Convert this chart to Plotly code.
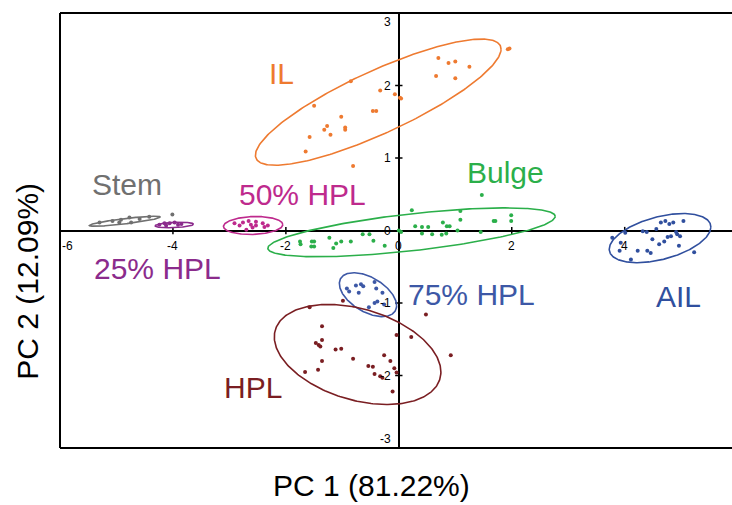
import numpy as np
import plotly.graph_objects as go

FONT = "Liberation Sans, Arial, Helvetica, sans-serif"

# ---- PCA scores per tissue group (PC1, PC2) ----
il_x = [0.70, 0.88, 1.00, 1.25, 0.66, 1.00, 1.93, 1.96, -0.85, -0.33, -0.07, 0.02, 0.04,
        -1.50, -0.46, -0.40, -1.02, -1.27, -1.32, -0.95, -0.95, -1.21, -1.58, -1.65, -0.81]
il_y = [2.38, 2.31, 2.33, 2.26, 2.13, 2.10, 2.50, 2.51, 2.06, 1.93, 1.88, 1.83, 1.82,
        1.72, 1.65, 1.65, 1.57, 1.44, 1.39, 1.42, 1.39, 1.32, 1.29, 1.09, 0.89]

bulge_x = [1.47, 0.23, 1.09, 1.09, 1.68, 1.71, 1.99, 1.99, 0.78, 0.85, 0.90, 0.29, 0.41,
           0.52, 0.41, 0.59, 0.76, 0.84, 1.04, 1.45, 0.04, 0.00, -0.64, -0.52, -0.45,
           -0.25, -0.85, -1.02, -1.11, -1.16, -1.23, -1.50, -1.54, -1.55, -1.50, -1.75, -1.74]
bulge_y = [0.49, 0.28, 0.27, 0.15, 0.13, 0.13, 0.21, 0.13, 0.11, 0.06, 0.06, 0.06, 0.05,
           0.05, -0.04, -0.05, -0.06, -0.04, 0.00, -0.02, -0.02, 0.00, -0.05, -0.05, -0.14,
           -0.21, -0.15, -0.15, -0.18, -0.24, -0.10, -0.15, -0.15, -0.22, -0.22, -0.15, -0.19]

hpl50_x = [-2.91, -2.82, -2.76, -2.66, -2.62, -2.53, -2.53, -2.41, -2.38, -2.32, -2.59, -2.70]
hpl50_y = [0.10, 0.07, 0.11, 0.13, 0.08, 0.12, 0.07, 0.10, 0.05, 0.07, 0.04, 0.01]

hpl25_x = [-4.24, -4.15, -4.06, -3.97, -3.91, -4.12, -3.85]
hpl25_y = [0.08, 0.10, 0.10, 0.11, 0.08, 0.07, 0.09]

stem_x = [-5.30, -5.07, -4.92, -4.77, -4.74, -4.59, -4.42, -4.95, -4.01]
stem_y = [0.11, 0.13, 0.15, 0.18, 0.11, 0.16, 0.19, 0.11, 0.22]

ail_x = [4.64, 4.72, 4.79, 4.86, 5.04, 4.32, 4.39, 4.56, 4.91, 4.93, 4.82, 4.76, 4.98,
         4.49, 4.70, 4.61, 4.96, 3.78, 3.93, 3.91, 4.23, 4.40, 4.46, 4.11, 5.23, 4.01]
ail_y = [0.11, 0.13, 0.09, 0.11, 0.13, -0.01, -0.02, 0.02, -0.02, -0.05, -0.08, -0.09, -0.08,
         -0.12, -0.15, -0.19, -0.21, -0.10, -0.17, -0.28, -0.28, -0.28, -0.31, -0.40, -0.30, -0.03]

hpl75_x = [-0.92, -0.76, -0.71, -0.67, -0.63, -0.43, -0.40, -0.29, -0.43, -0.38, -0.53, -0.26, -0.88]
hpl75_y = [-0.80, -0.76, -0.86, -0.74, -0.77, -0.71, -0.80, -0.86, -1.00, -0.98, -1.06, -1.02, -0.84]

hpl_x = [-0.99, -1.58, -1.36, -1.36, -1.47, -1.42, -1.39, -1.12, -1.02, -1.36, -1.43, -1.66,
         -0.81, -0.54, -0.46, -0.26, -0.15, -0.08, -0.43, -0.33, -0.29, -0.11, -0.04, 0.22,
         0.48, 0.92, -0.04]
hpl_y = [-0.97, -1.06, -1.32, -1.51, -1.55, -1.58, -1.60, -1.64, -1.63, -1.80, -1.92, -1.95,
         -1.77, -1.87, -1.88, -1.72, -1.80, -1.90, -1.98, -2.01, -2.03, -2.22, -1.44, -1.47,
         -1.16, -1.72, -1.96]

# ---- confidence ellipses: centre, half-width, half-height, correlation ----
ell_cx = {"IL": -0.365, "Bulge": 0.225, "50% HPL": -2.58, "25% HPL": -3.975,
          "Stem": -4.85, "AIL": 4.626, "75% HPL": -0.546, "HPL": -0.73}
ell_cy = {"IL": 1.77, "Bulge": -0.025, "50% HPL": 0.069, "25% HPL": 0.076,
          "Stem": 0.128, "AIL": -0.105, "75% HPL": -0.885, "HPL": -1.71}
ell_w = {"IL": 2.175, "Bulge": 2.545, "50% HPL": 0.525, "25% HPL": 0.34,
         "Stem": 0.63, "AIL": 0.90, "75% HPL": 0.507, "HPL": 1.475}
ell_h = {"IL": 0.87, "Bulge": 0.337, "50% HPL": 0.124, "25% HPL": 0.038,
         "Stem": 0.069, "AIL": 0.339, "75% HPL": 0.303, "HPL": 0.69}
ell_rho = {"IL": 0.84, "Bulge": 0.65, "50% HPL": 0.1, "25% HPL": 0.3,
           "Stem": 0.85, "AIL": 0.45, "75% HPL": -0.5, "HPL": -0.35}

# ---- group label anchors ----
label_x = {"IL": -2.07, "Bulge": 1.885, "50% HPL": -1.71, "25% HPL": -4.27,
           "Stem": -4.81, "AIL": 4.96, "75% HPL": 1.28, "HPL": -2.58}
label_y = {"IL": 2.16, "Bulge": 0.80, "50% HPL": 0.50, "25% HPL": -0.53,
           "Stem": 0.63, "AIL": -0.91, "75% HPL": -0.88, "HPL": -2.17}

colors = {"IL": "#EE7A30", "Bulge": "#2BAF4A", "50% HPL": "#BE2A8D", "25% HPL": "#8B2B8C",
          "Stem": "#707070", "AIL": "#304F9E", "75% HPL": "#3D58A6", "HPL": "#7A1E22"}

scores = {"IL": (il_x, il_y), "Bulge": (bulge_x, bulge_y), "50% HPL": (hpl50_x, hpl50_y),
          "25% HPL": (hpl25_x, hpl25_y), "Stem": (stem_x, stem_y), "AIL": (ail_x, ail_y),
          "75% HPL": (hpl75_x, hpl75_y), "HPL": (hpl_x, hpl_y)}

x_ticks = [-6, -4, -2, 0, 2, 4, 6]
y_ticks = [-3, -2, -1, 0, 1, 2, 3]


def ellipse(cx, cy, w, h, rho, n=300):
    t = np.linspace(0, 2 * np.pi, n)
    d = np.arccos(rho)
    return cx + w * np.cos(t), cy + h * np.cos(t - d)


fig = go.Figure()

# axes through the origin with cross ticks
tx, ty = [], []
for v in x_ticks:
    if v in (-6, 0, 6):
        continue
    tx += [v, v, None]
    ty += [-0.05, 0.05, None]
for v in y_ticks:
    if v in (-3, 0, 3):
        continue
    tx += [-0.065, 0.065, None]
    ty += [v, v, None]
fig.add_trace(go.Scatter(x=tx, y=ty, mode="lines", line=dict(color="black", width=1.5),
                         hoverinfo="skip", showlegend=False))

for g in scores:
    ex, ey = ellipse(ell_cx[g], ell_cy[g], ell_w[g], ell_h[g], ell_rho[g])
    fig.add_trace(go.Scatter(x=ex, y=ey, mode="lines", line=dict(color=colors[g], width=1.6),
                             hoverinfo="skip", showlegend=False))
    px, py = scores[g]
    fig.add_trace(go.Scatter(x=px, y=py, mode="markers", name=g,
                             marker=dict(color=colors[g], size=4), showlegend=False))

ann = []
for g in scores:
    ann.append(dict(x=label_x[g], y=label_y[g], xref="x", yref="y", text=g, showarrow=False,
                    font=dict(family=FONT, size=30, color=colors[g])))

tick_font = dict(family=FONT, size=12, color="black")
for v in x_ticks:
    anchor = "left" if v == -6 else ("right" if v == 6 else "center")
    ann.append(dict(x=v, y=0, xref="x", yref="y", text=str(v), showarrow=False,
                    xanchor=anchor, yanchor="top", yshift=-6,
                    xshift=(-5 if v == 6 else 0), font=tick_font))
for v in y_ticks:
    yanchor = "top" if v == 3 else ("bottom" if v == -3 else "middle")
    ann.append(dict(x=0, y=v, xref="x", yref="y", text=str(v), showarrow=False,
                    xanchor="right", yanchor=yanchor, xshift=-6, font=tick_font))

ann.append(dict(x=0.464, y=-0.087, xref="paper", yref="paper", text="PC 1 (81.22%)",
                showarrow=False, xanchor="center", yanchor="middle",
                font=dict(family=FONT, size=30, color="black")))
ann.append(dict(x=-0.048, y=0.384, xref="paper", yref="paper", text="PC 2 (12.09%)",
                showarrow=False, xanchor="center", yanchor="middle", textangle=-90,
                font=dict(family=FONT, size=30, color="black")))

# plot frame (the right edge lies just past the page)
frame = [
    dict(type="line", xref="paper", yref="paper", x0=0, x1=0, y0=0, y1=1,
         line=dict(color="black", width=2)),
    dict(type="line", xref="paper", yref="paper", x0=0, x1=1, y0=1, y1=1,
         line=dict(color="black", width=2)),
    dict(type="line", xref="paper", yref="paper", x0=0, x1=1, y0=0, y1=0,
         line=dict(color="black", width=2)),
]

axis_common = dict(showgrid=False, showticklabels=False, ticks="", zeroline=True,
                   zerolinecolor="black", zerolinewidth=1.5, showline=False)
fig.update_layout(
    width=732, height=505,
    margin=dict(l=60, r=0, t=13, b=57),
    paper_bgcolor="white", plot_bgcolor="white",
    xaxis=dict(range=[-6, 5.9], **axis_common),
    yaxis=dict(range=[-3, 3], **axis_common),
    annotations=ann, shapes=frame,
    font=dict(family=FONT),
)

fig.write_html("out.html")
